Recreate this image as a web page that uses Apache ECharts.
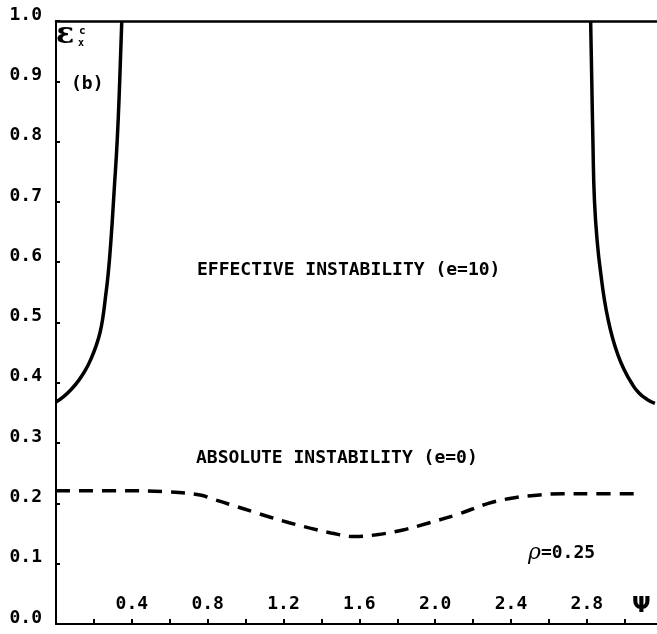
<!DOCTYPE html>
<html>
<head>
<meta charset="utf-8">
<script src="https://cdn.jsdelivr.net/npm/echarts@6/dist/echarts.min.js"></script>
<style>
html,body{margin:0;padding:0;background:#fff;}
#chart{width:657px;height:634px;}
</style>
</head>
<body>
<div id="chart"></div>
<script>
// ---- data ----
const psiLeft = [0, 0.04, 0.08, 0.12, 0.155, 0.185, 0.21, 0.232, 0.247, 0.259, 0.275, 0.29, 0.307, 0.323, 0.336, 0.347];
const epsLeft = [0.368, 0.377, 0.389, 0.404, 0.421, 0.44, 0.46, 0.483, 0.508, 0.537, 0.58, 0.637, 0.72, 0.803, 0.9, 1.0];
const psiRight = [2.820, 2.826, 2.832, 2.840, 2.856, 2.876, 2.893, 2.912, 2.935, 2.962, 2.995, 3.035, 3.075, 3.12, 3.159];
const epsRight = [1.0, 0.9, 0.8, 0.703, 0.63, 0.575, 0.537, 0.505, 0.475, 0.448, 0.423, 0.400, 0.383, 0.372, 0.366];
const psiAbs = [0, 0.34, 0.60, 0.76, 0.83, 0.93, 1.04, 1.13, 1.23, 1.34, 1.45, 1.57, 1.69, 1.83, 1.97, 2.12, 2.28, 2.41, 2.55, 2.67, 2.83, 3.09];
const epsAbs = [0.221, 0.221, 0.219, 0.214, 0.207, 0.197, 0.186, 0.177, 0.168, 0.159, 0.151, 0.145, 0.148, 0.156, 0.168, 0.182, 0.200, 0.209, 0.214, 0.216, 0.216, 0.216];
const xTickValues = [0.2, 0.4, 0.6, 0.8, 1.0, 1.2, 1.4, 1.6, 1.8, 2.0, 2.2, 2.4, 2.6, 2.8, 3.0];
const xLabelValues = [0.4, 0.8, 1.2, 1.6, 2.0, 2.4, 2.8];
const yLabelValues = [0, 0.1, 0.2, 0.3, 0.4, 0.5, 0.6, 0.7, 0.8, 0.9, 1.0];

const zip = (a, b) => a.map((v, i) => [v, b[i]]);
const FONT = '"DejaVu Sans Mono", monospace';

const chart = echarts.init(document.getElementById('chart'), null, {renderer: 'canvas'});
chart.setOption({
  animation: false,
  backgroundColor: '#fff',
  grid: {left: 56, right: 0, top: 21, bottom: 10, containLabel: false, outerBoundsMode: 'none'},
  xAxis: [{
    type: 'value', min: 0, max: 3.17, interval: 0.2,
    axisLine: {show: true, onZero: false, lineStyle: {color: '#000', width: 2}},
    axisTick: {show: true, inside: true, length: 5, lineStyle: {color: '#000', width: 2}, customValues: xTickValues},
    axisLabel: {show: true, inside: true, margin: 11, color: '#000', fontFamily: FONT, fontWeight: 'bold', fontSize: 18,
      customValues: xLabelValues, formatter: v => v.toFixed(1)},
    splitLine: {show: false}
  }, {
    type: 'value', position: 'top', min: 0, max: 3.17,
    axisLine: {show: true, onZero: false, lineStyle: {color: '#000', width: 2.5}},
    axisTick: {show: false}, axisLabel: {show: false}, splitLine: {show: false}
  }],
  yAxis: {
    type: 'value', min: 0, max: 1, interval: 0.1,
    axisLine: {show: true, onZero: false, lineStyle: {color: '#000', width: 2}},
    axisTick: {show: true, inside: true, length: 4, lineStyle: {color: '#000', width: 2}},
    axisLabel: {show: true, margin: 14, color: '#000', fontFamily: FONT, fontWeight: 'bold', fontSize: 18,
      verticalAlign: 'bottom', lineHeight: 12, customValues: yLabelValues, formatter: v => v.toFixed(1)},
    splitLine: {show: false}
  },
  series: [
    {type: 'line', data: zip(psiLeft, epsLeft), smooth: 0.5, symbol: 'none',
      lineStyle: {color: '#000', width: 3.5}},
    {type: 'line', data: zip(psiRight, epsRight), smooth: 0.5, symbol: 'none',
      lineStyle: {color: '#000', width: 3.5}},
    {type: 'line', data: zip(psiAbs, epsAbs), smooth: 0.4, symbol: 'none',
      lineStyle: {color: '#000', width: 3.5, type: [14, 9]}}
  ],
  graphic: [
    {type: 'text', left: 56, top: 20, style: {text: 'ε', fontFamily: '"DejaVu Serif", serif', fontWeight: 'bold', fontSize: 30, fill: '#000'}},
    {type: 'text', left: 79, top: 26, style: {text: 'c', fontFamily: FONT, fontWeight: 'bold', fontSize: 11, fill: '#000'}},
    {type: 'text', left: 78, top: 38, style: {text: 'x', fontFamily: FONT, fontWeight: 'bold', fontSize: 10, fill: '#000'}},
    {type: 'text', left: 71, top: 75, style: {text: '(b)', fontFamily: FONT, fontWeight: 'bold', fontSize: 18, fill: '#000'}},
    {type: 'text', left: 197, top: 261, style: {text: 'EFFECTIVE INSTABILITY (e=10)', fontFamily: FONT, fontWeight: 'bold', fontSize: 18, fill: '#000'}},
    {type: 'text', left: 196, top: 449, style: {text: 'ABSOLUTE INSTABILITY (e=0)', fontFamily: FONT, fontWeight: 'bold', fontSize: 18, fill: '#000'}},
    {type: 'text', left: 528, top: 542, style: {text: '{r|ρ}{t|=0.25}', rich: {
      r: {fontFamily: '"DejaVu Serif", serif', fontStyle: 'italic', fontSize: 22, fill: '#000'},
      t: {fontFamily: FONT, fontWeight: 'bold', fontSize: 18, fill: '#000'}
    }}},
    {type: 'text', left: 632, top: 595, style: {text: 'Ψ', fontFamily: '"DejaVu Sans", sans-serif', fontWeight: 'bold', fontSize: 22, fill: '#000'}}
  ]
});
</script>
</body>
</html>
